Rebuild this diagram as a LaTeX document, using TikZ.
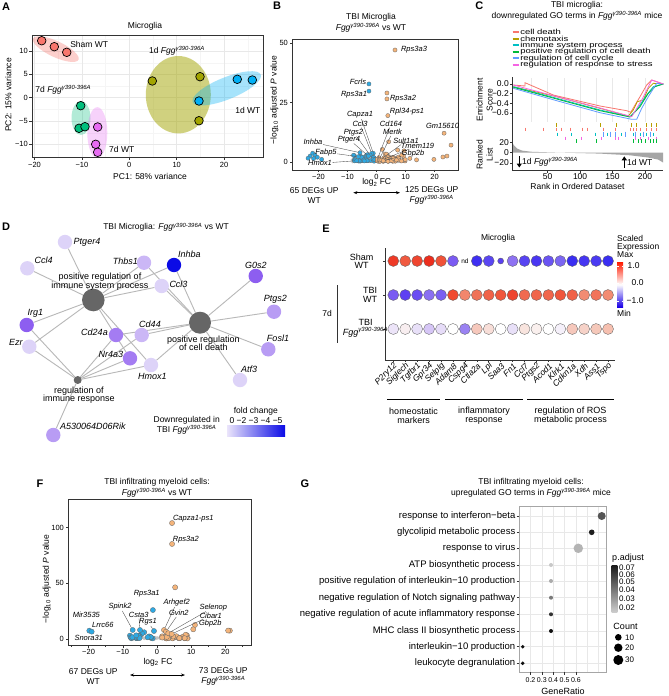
\documentclass[tikz,border=0pt]{standalone}
\usepackage{fontspec}
\setmainfont{Liberation Sans}
\usepackage{tikz}
\usetikzlibrary{positioning, arrows.meta, calc, backgrounds}

\definecolor{shamred}{HTML}{F8766D}
\definecolor{olivefgg}{HTML}{A3A500}
\definecolor{greenfgg}{HTML}{00BF7D}
\definecolor{bluewt}{HTML}{00B0F6}
\definecolor{pinkwt}{HTML}{E76BF3}
\definecolor{upcol}{HTML}{F4B47A}
\definecolor{dncol}{HTML}{2EA9E3}
\definecolor{cloud}{HTML}{C4C4C4}
\definecolor{gocd}{HTML}{F8766D}
\definecolor{goch}{HTML}{B79F00}
\definecolor{goim}{HTML}{00BFC4}
\definecolor{gopo}{HTML}{00BA38}
\definecolor{gocy}{HTML}{619CFF}
\definecolor{gost}{HTML}{F564E3}
\definecolor{hubgray}{HTML}{666666}
\definecolor{lavA}{HTML}{DDD3F8}
\definecolor{lavB}{HTML}{CBB7F6}
\definecolor{lavC}{HTML}{B89CF4}
\definecolor{lavD}{HTML}{A47CF2}
\definecolor{lavE}{HTML}{8D5EF0}
\definecolor{inhbablue}{HTML}{0B0BE6}

\newcommand{\fgg}{\textit{Fgg\textsuperscript{γ390-396A}}}

\tikzset{
  panellbl/.style={font=\fontsize{11}{11}\selectfont\bfseries, inner sep=0pt},
  ttl/.style={font=\fontsize{8.5}{11}\selectfont, align=center, inner sep=0pt},
  axlbl/.style={font=\fontsize{8.5}{10}\selectfont, align=center, inner sep=0pt},
  ticklbl/.style={font=\fontsize{7.5}{8}\selectfont, inner sep=0pt},
  vgene/.style={font=\fontsize{7.5}{8}\selectfont\itshape, inner sep=0.6pt},
  dlbl/.style={font=\fontsize{9}{9}\selectfont\itshape, inner sep=0pt},
  hublbl/.style={font=\fontsize{9}{8.5}\selectfont, align=center, inner sep=0pt},
  egene/.style={font=\fontsize{8.5}{8.5}\selectfont\itshape, inner sep=0pt, rotate=45, anchor=east},
  golbl/.style={font=\fontsize{9.5}{9.5}\selectfont, inner sep=0pt, anchor=east},
  gokey/.style={font=\fontsize{7.3}{7.3}\selectfont, inner sep=0pt, xscale=1.3, anchor=west},
  boxframe/.style={draw=black!80, line width=0.6pt},
  tickm/.style={draw=black!80, line width=0.5pt},
  gridmaj/.style={draw=black!9, line width=0.5pt},
  gridmin/.style={draw=black!4, line width=0.3pt},
  pcadot/.style={circle, draw=black, line width=0.7pt, minimum size=8.6pt, inner sep=0pt},
  volc/.style={circle, draw=black!60, line width=0.3pt, minimum size=4.2pt, inner sep=0pt},
  bigvolc/.style={volc, minimum size=5.2pt},
  gdot/.style={circle, fill=cloud, minimum size=2.6pt, inner sep=0pt},
  lbline/.style={draw=black!70, line width=0.35pt},
  cnode/.style={circle, minimum size=14.4pt, inner sep=0pt},
  hub/.style={circle, fill=hubgray, inner sep=0pt},
  cedge/.style={draw=black!28, line width=0.9pt},
  edot/.style={circle, draw=black!65, line width=0.3pt, minimum size=11pt, inner sep=0pt},
  godot/.style={circle, inner sep=0pt},
  degarrow/.style={{Stealth[length=4pt]}-{Stealth[length=4pt]}, line width=0.6pt},
  rankarrow/.style={-{Triangle[length=4pt, width=5pt]}, line width=1.4pt},
}

\begin{document}
\begin{tikzpicture}[x=1pt, y=-1pt]
\useasboundingbox (0,0) rectangle (669,696);
\begin{scope}[on background layer]
  \fill[white] (0,0) rectangle (669,696);
\end{scope}

% ---------------- A: PCA
\node[panellbl] (labA) at (6,7) {A};
\node[ttl] (ttlA) at (145,26) {Microglia};
\begin{scope}[shift={(129.3,97.7)}, x=4.74pt, y=4.67pt]
  \begin{scope}
    \clip (-20.53,-12.7) rectangle (28.2,13.43);
    \foreach \v in {-15,-5,5,15,25} \draw[gridmin] (\v,-12.7) -- (\v,13.43);
    \foreach \v in {-7.5,-2.5,2.5,7.5,12.5} \draw[gridmin] (-20.53,\v) -- (28.2,\v);
    \foreach \v in {-20,-10,0,10,20} \draw[gridmaj] (\v,-12.7) -- (\v,13.43);
    \foreach \v in {-10,-5,0,5,10} \draw[gridmaj] (-20.53,\v) -- (28.2,\v);
    \fill[shamred, opacity=.35, rotate around={-25:(-15.5,10.4)}] (-15.5,10.4) ellipse [x radius=25pt, y radius=8pt];
    \fill[greenfgg, opacity=.3] (-10.19,-4.35) ellipse [x radius=9.5pt, y radius=17pt];
    \fill[pinkwt, opacity=.3] (-6.75,-7.49) ellipse [x radius=10pt, y radius=25.5pt];
    \fill[olivefgg, opacity=.5] (10.34,0.64) ellipse [x radius=32.5pt, y radius=38.7pt];
    \fill[bluewt, opacity=.35, rotate around={22:(20.55,2.01)}] (20.55,2.01) ellipse [x radius=36.7pt, y radius=11pt];
  \end{scope}
  \draw[boxframe] (-20.53,-12.7) rectangle (28.2,13.43);
  \foreach \v/\t [count=\k] in {-20/−20,-10/−10,0/0,10/10,20/20} {
    \draw[tickm] (\v,-12.7) -- ++(0,-2.5pt);
    \node[ticklbl, anchor=north] (ax\k) at ([yshift=-5pt]\v,-12.7) {\t};
  }
  \foreach \v/\t [count=\k] in {-10/−10,-5/−5,0/0,5/5,10/10} {
    \draw[tickm] (-20.53,\v) -- ++(-2.5pt,0);
    \node[ticklbl, anchor=east] (ay\k) at ([xshift=-4pt]-20.53,\v) {\t};
  }
  % samples
  \foreach \px/\py [count=\k] in {-18.48/12.2, -15.82/10.92, -13.2/9.72}
    \node[pcadot, fill=shamred] (sham\k) at (\px,\py) {};
  \foreach \px/\py [count=\k] in {-10.25/-1.71, -10.61/-6.55, -9.35/-6.21}
    \node[pcadot, fill=greenfgg] (fggseven\k) at (\px,\py) {};
  \foreach \px/\py [count=\k] in {-6.67/-6.27, -7.09/-9.98, -6.67/-11.69}
    \node[pcadot, fill=pinkwt] (wtseven\k) at (\px,\py) {};
  \foreach \px/\py [count=\k] in {4.85/3.58, 14.92/4.5, 14.7/-4.93}
    \node[pcadot, fill=olivefgg] (fggone\k) at (\px,\py) {};
  \foreach \px/\py [count=\k] in {14.7/-0.71, 22.78/3.94, 25.95/3.79}
    \node[pcadot, fill=bluewt] (wtone\k) at (\px,\py) {};
  \node[axlbl, anchor=west] (lsham) at (-12.5,11.43) {Sham WT};
  \node[axlbl] (lfggone) at (10.06,9.98) {1d \fgg};
  \node[axlbl] (lfggseven) at (-13.92,1.65) {7d \fgg};
  \node[axlbl] (lwtseven) at (-1.6,-11.05) {7d WT};
  \node[axlbl] (lwtone) at (25.0,-2.63) {1d WT};
\end{scope}
\node[axlbl] (xlA) at (150,176.5) {PC1: 58\% variance};
\node[axlbl, rotate=90] (ylA) at (8.3,95) {PC2: 15\% variance};

% ---------------- B: volcano microglia
\node[panellbl] (labB) at (277,6) {B};
\node[ttl] (ttlB) at (371,22.7) {TBI Microglia\\\fgg{} vs WT};
\begin{scope}[shift={(376.5,162)}, x=2.9pt, y=2.38pt]
  \pgfmathsetseed{11}
  \foreach \k in {1,...,90} {
    \pgfmathsetmacro{\px}{-8.5+18.3*rnd}
    \pgfmathsetmacro{\py}{1.1*rnd}
    \node[gdot] (bgr\k) at (\px,\py) {};
  }
  \foreach \k in {1,...,34} {
    \pgfmathsetmacro{\px}{-8+7.6*rnd}
    \pgfmathsetmacro{\py}{0.3+4.2*rnd*rnd}
    \node[volc, fill=dncol] (bdn\k) at (\px,\py) {};
  }
  \foreach \k in {1,...,44} {
    \pgfmathsetmacro{\px}{0.2+9.8*rnd}
    \pgfmathsetmacro{\py}{0.3+3.6*rnd*rnd}
    \node[volc, fill=upcol] (bup\k) at (\px,\py) {};
  }
  \foreach \px/\py [count=\k] in {-22.9/2.5, -22/3.7, -21.2/2.9, -20.4/2, -18.9/1.1, -23.6/1.6, -21.7/1.4}
    \node[volc, fill=dncol] (bfar\k) at (\px,\py) {};
  \foreach \px/\py [count=\k] in {4.2/8.5, 2/5.3, 7.3/5, 9.5/4.7, 8.7/2.9, 25.7/7.1, 24.3/2.5, 22.9/2.1, 19.8/1.1, 11.5/1.5, 13.8/0.9}
    \node[volc, fill=upcol] (bext\k) at (\px,\py) {};
  % labelled genes
  \node[volc, fill=upcol] (bpRps3a3) at (6.38,47.06) {};
  \node[volc, fill=dncol] (bpFcrls) at (-2.6,32.8) {};
  \node[volc, fill=dncol] (bpRps3a1) at (-2.6,29.8) {};
  \node[volc, fill=upcol] (bpRps3a2) at (3.6,29) {};
  \node[volc, fill=upcol] (bpRps3a2b) at (3.6,26.5) {};
  \node[volc, fill=upcol] (bpRpl) at (3.9,19.5) {};
  \node[volc, fill=upcol] (bpGm) at (23.3,12.1) {};
  \node[volc, fill=dncol] (bpCapza1) at (-1.1,3.66) {};
  \node[volc, fill=dncol] (bpCcl3) at (-1.66,3.66) {};
  \node[volc, fill=dncol] (bpPtgs2) at (-2.24,2.94) {};
  \node[volc, fill=dncol] (bpPtger4) at (-2.83,2.52) {};
  \node[volc, fill=dncol] (bpInhba) at (-5.69,3.91) {};
  \node[volc, fill=dncol] (bpFabp5) at (-6.28,2.23) {};
  \node[volc, fill=dncol] (bpHmox1) at (-6.83,0.55) {};
  \node[volc, fill=upcol] (bpCd164) at (0.28,1.13) {};
  \node[volc, fill=upcol] (bpMertk) at (0.97,1.13) {};
  \node[volc, fill=upcol] (bpSult1a1) at (1.2,0.84) {};
  \node[volc, fill=upcol] (bpTmem119) at (1.8,0.84) {};
  \node[volc, fill=upcol] (bpGbp2b) at (2.34,0.55) {};
  \draw[boxframe] (-29.1,-3.36) rectangle (28.1,51.7);
  \foreach \v/\t [count=\k] in {-20/−20,-10/−10,0/0,10/10,20/20} {
    \draw[tickm] (\v,-3.36) -- ++(0,-2.5pt);
    \node[ticklbl, anchor=north] (bx\k) at ([yshift=-4pt]\v,-3.36) {\t};
  }
  \foreach \v in {-25,-15,-5,5,15,25} \draw[tickm] (\v,-3.36) -- ++(0,-1.5pt);
  \foreach \v [count=\k] in {0,25,50} {
    \draw[tickm] (-29.1,\v) -- ++(-2.5pt,0);
    \node[ticklbl, anchor=east] (by\k) at ([xshift=-4pt]-29.1,\v) {\v};
  }
\end{scope}
\foreach \n/\t/\px/\py in {Rps3a3/Rps3a3/414/50, Fcrls/Fcrls/358/81.7, Rps3a1/Rps3a1/354/94.3, Rps3a2/Rps3a2/403/98.3, Rpl/Rpl34-ps1/407/111.7, Gm/Gm15610/442.5/126}
  \node[vgene] (bl\n) at (\px,\py) {\t};
\foreach \n/\px/\py in {Capza1/360/115, Ccl3/360/124, Ptgs2/353.5/132.3, Ptger4/349/139.3, Inhba/313/142.3, Fabp5/326/152.3, Hmox1/320/163.3, Cd164/391/124, Mertk/392.5/132.3, Sult1a1/406/141, Tmem119/417.5/145.7, Gbp2b/413/153.3} {
  \node[vgene] (bl\n) at (\px,\py) {\n};
  \draw[lbline] (bl\n) -- (bp\n);
}
\node[axlbl] (xlB) at (376.7,182.7) {log\textsubscript{2} FC};
\node[axlbl, rotate=90] (ylB) at (274.3,100) {−log\textsubscript{10} adjusted \textit{P} value};
\node[axlbl] (dnB) at (314.3,195.5) {65 DEGs UP\\WT};
\node[axlbl] (upB) at (431.7,195.5) {125 DEGs UP\\\fgg};
\coordinate (bArrL) at (353.3,192.7);
\coordinate (bArrR) at (400,192.7);
\draw[degarrow] (bArrL) -- (bArrR);

% ---------------- C: GSEA
\node[panellbl] (labC) at (479.3,6) {C};
\node[ttl] (ttlC) at (577,10.9) {TBI microglia:\\downregulated GO terms in \fgg{} mice};
\foreach \col/\t/\py [count=\k] in {gocd/cell death/32, goch/chemotaxis/38.6, goim/immune system process/45.2, gopo/positive regulation of cell death/51.8, gocy/regulation of cell cycle/58.4, gost/regulation of response to stress/65} {
  \draw[\col, line width=2pt] (512.5,\py) -- (518.5,\py);
  \node[gokey] (gk\k) at (520,\py) {\t};
}
\foreach \r in {25,50,...,200} \draw[gridmaj] ({515.3+0.648*\r},78) -- ({515.3+0.648*\r},122);
\draw[gocd, line width=0.8pt] (513.3,85) -- (525,86) -- (525,82.7) -- (553.3,95) -- (600,106) -- (626.7,110.7) -- (630.7,112.3) -- (640,96.7) -- (646.7,85) -- (651.7,80) -- (663.3,84);
\draw[goch, line width=0.8pt] (513.3,86.7) -- (556.7,96.7) -- (600,108.3) -- (628.3,116) -- (633.3,110) -- (637.3,101.7) -- (643.3,100) -- (648.3,88.3) -- (653.3,83.3) -- (663.3,84);
\draw[goim, line width=0.8pt] (513.3,86.7) -- (556.7,98.3) -- (600,110) -- (630,116.7) -- (636.7,110) -- (646.7,95) -- (653.3,86.7) -- (663.3,84);
\draw[gopo, line width=0.8pt] (513.3,87.3) -- (556.7,99) -- (600,110.7) -- (630,117) -- (640,106.7) -- (648.3,93.3) -- (655,86.7) -- (663.3,84);
\draw[gocy, line width=0.8pt] (513.3,88.3) -- (556.7,100.7) -- (600,112.7) -- (631.7,119.3) -- (636.7,119.3) -- (641.7,108.3) -- (648.3,96.7) -- (656.7,83.3) -- (663.3,84);
\draw[gost, line width=0.8pt] (513.3,85) -- (560,97.5) -- (600,108) -- (631.7,116.7) -- (641.7,100) -- (651.7,80) -- (663.3,84);
% hits
\foreach \px in {556.7,600,616.7,631.7,636.7,646.7,651.7,656.7} \draw[goch, line width=0.8pt] (\px,123.4) -- (\px,126.8);
\foreach \px in {525,543.3,556,561,570,582.7,587.3,603.3,615,630,633.3,636.7,640,646.7,651.7,656.7} \draw[gocd, line width=0.8pt] (\px,127.7) -- (\px,131);
\foreach \px in {557.7,571.7,595,607.3,621.7,633.3,640,646.7,653.3} \draw[goim, line width=0.8pt] (\px,132.7) -- (\px,136);
\foreach \px in {603.3,610.7,615,625,635,643.3,650} \draw[gocy, line width=0.8pt] (\px,131.7) -- (\px,136.7);
\foreach \px in {565,581.7,601.7,615,618.3,635,640,648.3,656.7} \draw[gost, line width=0.8pt] (\px,136.7) -- (\px,140);
\foreach \px in {576.7,596.7,633.3,638.3,641.7,645,650,653.3,656.7} \draw[gopo, line width=0.8pt] (\px,139.4) -- (\px,142.8);
% ranked list
\fill[black!35] (512.5,152.7) -- (512.5,142.7) -- (514,145.5) -- (517,148.5) -- (522,150.6) -- (532,151.8) -- (555,152.5) -- (600,153.6) -- (630,155.3) -- (648,157.5) -- (658,159.5) -- (663,162.5) -- (663,152.7) -- cycle;
\draw[boxframe] (512.3,77) -- (512.3,170) -- (663.3,170);
\foreach \t/\py [count=\k] in {0.0/84, −0.2/93.6, −0.4/103.2, −0.6/112.8} {
  \draw[tickm] (510,\py) -- (512.3,\py);
  \node[axlbl, anchor=east] (esy\k) at (509,\py) {\t};
}
\foreach \t/\py [count=\k] in {20/142.7, 0/152.7, −20/163} {
  \draw[tickm] (510,\py) -- (512.3,\py);
  \node[axlbl, anchor=east] (rly\k) at (509,\py) {\t};
}
\foreach \r [count=\k] in {50,100,150,200} {
  \draw[tickm] ({515.3+0.648*\r},170) -- ({515.3+0.648*\r},172.5);
  \node[axlbl] (rkx\k) at ({515.3+0.648*\r},177) {\r};
}
\node[axlbl] (xlC) at (577.5,186) {Rank in Ordered Dataset};
\node[axlbl, rotate=90] (esl) at (484.5,100) {Enrichment\\Score};
\node[axlbl, rotate=90] (rkl) at (484.5,154.5) {Ranked\\List};
\coordinate (aDnT) at (519.3,156.3);
\coordinate (aDnB) at (519.3,167.5);
\draw[rankarrow] (aDnT) -- (aDnB);
\node[axlbl, anchor=west] (onefgg) at (522,162) {1d \fgg};
\coordinate (aUpB) at (624.3,167.5);
\coordinate (aUpT) at (624.3,156.3);
\draw[rankarrow] (aUpB) -- (aUpT);
\node[axlbl, anchor=west] (onewt) at (627,162) {1d WT};

% ---------------- D: cnet plot
\node[panellbl] (labD) at (6,226.7) {D};
\node[ttl] (ttlD) at (166,227.3) {TBI Microglia: \fgg{} vs WT};
\node[hub, minimum size=22.6pt] (prisp) at (93.3,300) {};
\node[hub, minimum size=22pt] (prcd) at (200,322.7) {};
\node[hub, minimum size=8pt] (rir) at (77.7,380) {};
\node[cnode, fill=lavA] (dPtger4) at (65,242) {};
\node[cnode, fill=lavA] (dCcl4) at (27.3,268.3) {};
\node[cnode, fill=lavB] (dThbs1) at (144,262.7) {};
\node[cnode, fill=inhbablue] (dInhba) at (174,265) {};
\node[cnode, fill=lavE] (dG0s2) at (255.7,276) {};
\node[cnode, fill=lavA] (dCcl3) at (161.7,286) {};
\node[cnode, fill=lavC] (dPtgs2) at (274,311.7) {};
\node[cnode, fill=lavE] (dIrg1) at (26.7,325) {};
\node[cnode, fill=lavD] (dCd24a) at (116,335) {};
\node[cnode, fill=lavB] (dCd44) at (141.7,335) {};
\node[cnode, fill=lavC] (dFosl1) at (268.3,349.3) {};
\node[cnode, fill=lavA] (dEzr) at (29.3,346.7) {};
\node[cnode, fill=lavD] (dNr4a3) at (130,358.3) {};
\node[cnode, fill=lavA] (dHmox1) at (151,365) {};
\node[cnode, fill=lavA] (dAtf3) at (240,380) {};
\node[cnode, fill=lavC] (dRik) at (53.3,435) {};
\begin{scope}[on background layer]
  \foreach \g in {dPtger4,dCcl4,dThbs1,dInhba,dCcl3,dIrg1,dEzr,dNr4a3,dHmox1} \draw[cedge] (prisp) -- (\g);
  \foreach \g in {dThbs1,dInhba,dCcl3,dG0s2,dPtgs2,dFosl1,dAtf3,dCd44,dCd24a,dHmox1} \draw[cedge] (prcd) -- (\g);
  \foreach \g in {dIrg1,dEzr,dCd24a,dCd44,dNr4a3,dHmox1,dRik} \draw[cedge] (rir) -- (\g);
\end{scope}
\foreach \n/\px/\py in {Ptger4/87/242.7, Ccl4/43.7/260, Thbs1/125.3/261, Inhba/189.3/254.3, G0s2/255.8/265, Ccl3/178.5/284.3, Ptgs2/275.3/299, Irg1/35.5/313.3, Cd24a/94.5/332.7, Cd44/150/324.3, Fosl1/278/338.3, Ezr/15.8/342, Nr4a3/110.8/354.3, Hmox1/152.5/376.7, Atf3/249.2/369.7}
  \node[dlbl] (t\n) at (\px,\py) {\n};
\node[dlbl] (tRik) at (92.8,426.7) {A530064D06Rik};
\node[hublbl] (tprisp) at (100,281.8) {positive regulation of\\immune system process};
\node[hublbl] (tprcd) at (203.3,343.5) {positive regulation\\of cell death};
\node[hublbl] (trir) at (79,395.2) {regulation of\\immune response};
\node[axlbl] (fcttl) at (255.8,411) {fold change};
\node[axlbl] (fcnum) at (256,421) {0 −2 −3 −4 −5};
\shade[left color=lavA!60!white, right color=inhbablue] (227,425.7) rectangle (285,436);
\node[axlbl, align=center] (fcdesc) at (186.7,425.3) {Downregulated in\\TBI \fgg};

% ---------------- E: dot plot
\node[panellbl] (labE) at (326,228.3) {E};
\node[ttl] (ttlE) at (498,238) {Microglia};
\foreach \i/\col in {1/EE3A26,2/F05A40,3/EF4630,4/EC2E1E,5/F05238,6/7B5BF2,8/3F2FF2,9/5A46F2,11/8E72F2,12/5844F2,13/4A36F2,14/6A54F2,15/7C66F2,16/3A2EF2,17/4636F2,18/4A3AF2,19/3A2EF2} {
  \definecolor{ecol}{HTML}{\col}
  \node[edot, fill=ecol] (es\i) at ({393.3+11.93*(\i-1)},261) {};
}
\definecolor{esmall}{HTML}{5A40F0}
\node[edot, fill=esmall, minimum size=6pt] (es10) at ({393.3+11.93*9},261) {};
\node[font=\fontsize{6.5}{6.5}\selectfont, inner sep=0pt] (es7) at ({393.3+11.93*6},261) {nd};
\foreach \i/\col in {1/7A5AF2,2/5E40F2,3/6A4CF2,4/8A70F2,5/7A60F2,6/F04A30,7/F2866C,8/F07258,9/F06248,10/F0563C,11/EE4530,12/F06A50,13/F0664C,14/F0664C,15/F0563C,16/F06248,17/F28C72,18/F2735A,19/F28C72} {
  \definecolor{ecol}{HTML}{\col}
  \node[edot, fill=ecol] (ew\i) at ({393.3+11.93*(\i-1)},295) {};
}
\foreach \i/\col in {1/ECE4F8,2/F8EEF0,3/E8E0F8,4/D6C6F6,5/E6DCF8,6/FFFFFF,7/9A82F2,8/F6C8BC,9/F8DED8,10/FFFFFF,11/E8E0F8,12/F8E4DE,13/FAF0EE,14/FFFFFF,15/F5F0FA,16/F6C8BC,17/F6D2C8,18/F5C8BA,19/F6C0B0} {
  \definecolor{ecol}{HTML}{\col}
  \node[edot, fill=ecol] (ef\i) at ({393.3+11.93*(\i-1)},329) {};
}
\draw[boxframe] (385,248) -- (385,360) -- (615,360);
\foreach \py in {261,295,329} \draw[tickm] (383,\py) -- (385,\py);
\foreach \i in {1,...,19} \draw[tickm] ({393.3+11.93*(\i-1)},360) -- ({393.3+11.93*(\i-1)},362.3);
\foreach \g [count=\i] in {P2ry12,Siglech,Tgfbr1,Gpr34,Selplg,Adam8,Cspg4,Ctla2a,Lpl,Saa3,Fn1,Ccl7,Ptgs2,Acod1,Klrk1,Cdkn1a,Xdh,Ass1,Tspo}
  \node[egene] (eg\i) at ({393.3+11.93*(\i-1)+2.5},364.5) {\g};
\node[axlbl, font=\fontsize{9}{8.5}\selectfont] (rsham) at (361.7,261.3) {Sham\\WT};
\node[axlbl, font=\fontsize{9}{9.5}\selectfont] (rtbiwt) at (370,295) {TBI\\WT};
\node[axlbl, font=\fontsize{9}{9.5}\selectfont] (rtbifgg) at (365.5,328.3) {TBI\\\fgg};
\coordinate (sevT) at (337.3,285);
\coordinate (sevB) at (337.3,343);
\draw[line width=0.8pt, black!80] (sevT) -- (sevB);
\node[axlbl] (rseven) at (327,313.5) {7d};
\draw[line width=1pt] (387,399) -- (440,399);
\draw[line width=1pt] (445,399) -- (523,399);
\draw[line width=1pt] (527,399) -- (614,399);
\node[axlbl, font=\fontsize{9}{9.3}\selectfont] (bhomeo) at (413.5,415.5) {homeostatic\\markers};
\node[axlbl, font=\fontsize{9}{9.3}\selectfont] (binfl) at (484,415.5) {inflammatory\\response};
\node[axlbl, font=\fontsize{9}{9.3}\selectfont] (bros) at (570.5,415.5) {regulation of ROS\\metabolic process};
\node[axlbl, anchor=west, align=left, font=\fontsize{8.5}{8.3}\selectfont] (cbttl) at (617,246.5) {Scaled\\Expression\\Max};
\shade[top color=red!80!orange, bottom color=blue!80!violet, middle color=white] (617,262) rectangle (623,307);
\foreach \py in {266,283,301} \draw[white, line width=0.5pt] (617,\py) -- (618.5,\py) (621.5,\py) -- (623,\py);
\node[axlbl, anchor=west] (cb1) at (627.5,266) {1.0};
\node[axlbl, anchor=west] (cb0) at (631.5,283) {0.0};
\node[axlbl, anchor=west] (cbm) at (626.5,301) {−1.0};
\node[axlbl, anchor=west] (cbmin) at (617,313) {Min};

% ---------------- F: volcano infiltrating
\node[panellbl] (labF) at (40,484) {F};
\node[ttl] (ttlF) at (157,488) {TBI infiltrating myeloid cells:\\\fgg{} vs WT};
\begin{scope}[shift={(157,639)}, x=3.42pt, y=1.114pt]
  \pgfmathsetseed{23}
  \foreach \k in {1,...,80} {
    \pgfmathsetmacro{\px}{-8+18*rnd}
    \pgfmathsetmacro{\py}{1.6*rnd}
    \node[gdot] (fgr\k) at (\px,\py) {};
  }
  \foreach \k in {1,...,26} {
    \pgfmathsetmacro{\px}{-8+7*rnd}
    \pgfmathsetmacro{\py}{0.5+6*rnd*rnd}
    \node[bigvolc, fill=dncol] (fdn\k) at (\px,\py) {};
  }
  \foreach \k in {1,...,30} {
    \pgfmathsetmacro{\px}{1+8*rnd}
    \pgfmathsetmacro{\py}{0.5+5*rnd*rnd}
    \node[bigvolc, fill=upcol] (fup\k) at (\px,\py) {};
  }
  \node[bigvolc, fill=upcol] (fpCapza) at (4.4,104.1) {};
  \node[bigvolc, fill=upcol] (fpRps3a2) at (4.4,85.3) {};
  \node[bigvolc, fill=upcol] (fpOr) at (5.3,46.4) {};
  \node[bigvolc, fill=dncol] (fpRps3a1) at (-1.2,26) {};
  \node[bigvolc, fill=dncol] (fpMir) at (-19.8,7.5) {};
  \node[bigvolc, fill=dncol] (fpLrrc) at (-19.1,6.6) {};
  \node[bigvolc, fill=upcol] (fpGbp) at (11.1,12.6) {};
  \node[bigvolc, fill=upcol] (fpOrB) at (10.6,8.7) {};
  \node[bigvolc, fill=upcol] (fpOrC) at (21.3,7.5) {};
  \node[bigvolc, fill=upcol] (fpOrD) at (20.8,7.6) {};
  \node[bigvolc, fill=dncol] (fpSpink2) at (-7.11,8.08) {};
  \node[bigvolc, fill=dncol] (fpCsta3) at (-4.97,8.08) {};
  \node[bigvolc, fill=dncol] (fpRgs1) at (-0.88,7.18) {};
  \node[bigvolc, fill=upcol] (fpArhgef2) at (2.05,8.08) {};
  \node[bigvolc, fill=upcol] (fpGvin2) at (2.63,6.5) {};
  \node[bigvolc, fill=upcol] (fpSelenop) at (3.3,5.2) {};
  \node[bigvolc, fill=upcol] (fpCibar1) at (4.3,4.5) {};
  \draw[boxframe] (-26,-5.4) rectangle (27.5,125.7);
  \foreach \v/\t [count=\k] in {-20/−20,-10/−10,0/0,10/10,20/20} {
    \draw[tickm] (\v,-5.4) -- ++(0,-2.5pt);
    \node[ticklbl, anchor=north] (fx\k) at ([yshift=-4pt]\v,-5.4) {\t};
  }
  \foreach \v in {-25,-15,-5,5,15,25} \draw[tickm] (\v,-5.4) -- ++(0,-1.5pt);
  \foreach \v [count=\k] in {0,50,100} {
    \draw[tickm] (-26,\v) -- ++(-2.5pt,0);
    \node[ticklbl, anchor=east] (fy\k) at ([xshift=-4pt]-26,\v) {\v};
  }
\end{scope}
\foreach \n/\t/\px/\py in {Capza/Capza1-ps1/193.3/518.3, Rps3a2/Rps3a2/185.8/539.3, Rps3a1/Rps3a1/146.7/593.3, Mir/Mir3535/86.3/615, Lrrc/Lrrc66/102.8/625, Snora/Snora31/88.7/638.3, Gbp/Gbp2b/210.3/623.3}
  \node[vgene] (fl\n) at (\px,\py) {\t};
\foreach \n/\px/\py in {Spink2/120/606.7, Csta3/138.7/615, Rgs1/148/621.7, Arhgef2/176.7/602.7, Gvin2/178.8/613.3, Selenop/213.3/607.3, Cibar1/210.8/615.7} {
  \node[vgene] (fl\n) at (\px,\py) {\n};
  \draw[lbline] (fl\n) -- (fp\n);
}
\node[axlbl] (xlF) at (158,662) {log\textsubscript{2} FC};
\node[axlbl, rotate=90] (ylF) at (46.7,579) {−log\textsubscript{10} adjusted \textit{P} value};
\node[axlbl] (dnF) at (93.3,676.5) {67 DEGs UP\\WT};
\node[axlbl] (upF) at (223.3,676.5) {73 DEGs UP\\\fgg};
\coordinate (fArrL) at (130,675);
\coordinate (fArrR) at (185,675);
\draw[degarrow] (fArrL) -- (fArrR);

% ---------------- G: GO dot plot
\node[panellbl] (labG) at (305,484) {G};
\node[ttl] (ttlG) at (531,488) {TBI infiltrating myeloid cells:\\upregulated GO terms in \fgg{} mice};
\foreach \k in {0,...,6} \draw[gridmaj] ({530.5+11.35*\k},506) -- ({530.5+11.35*\k},672);
\foreach \t/\py [count=\k] in {response to interferon−beta/516, glycolipid metabolic process/532.3, response to virus/548.3, ATP biosynthetic process/565, positive regulation of interleukin−10 production/581, negative regulation of Notch signaling pathway/597.7, negative regulation of acute inflammatory response/614.3, MHC class II biosynthetic process/631, interleukin−10 production/646.7, leukocyte degranulation/663.3} {
  \draw[gridmaj] (519,\py) -- (606,\py);
  \draw[tickm] (516.5,\py) -- (519,\py);
  \node[golbl] (gl\k) at (515.5,\py) {\t};
}
\foreach \px/\py/\s/\col [count=\k] in {601.7/516/8/555555, 591.7/532.3/5.6/1E1E1E, 578.3/548.3/9.5/B4B4B4, 551/565/4/C8C8C8, 551/581/4/ABABAB, 551/597.7/4/7A7A7A, 551/614.3/4/333333, 551/631/4/111111, 522.7/646.7/3.8/111111, 522.7/663.3/3.8/111111} {
  \definecolor{gcol}{HTML}{\col}
  \node[godot, fill=gcol, minimum size=\s pt] (gp\k) at (\px,\py) {};
}
\draw[draw=black!35, line width=0.6pt] (519,506) rectangle (606,672);
\foreach \t [count=\k] in {0.2,0.3,0.4,0.5,0.6} {
  \draw[tickm] ({530.5+11.35*(\k-1)},672) -- ({530.5+11.35*(\k-1)},674.5);
  \node[ticklbl, font=\fontsize{7}{7}\selectfont] (gx\k) at ({530.5+11.35*(\k-1)},680) {\t};
}
\node[axlbl, font=\fontsize{9}{9}\selectfont] (xlG) at (563,691) {GeneRatio};
\node[axlbl, font=\fontsize{9}{9}\selectfont] (padj) at (628,557.7) {p.adjust};
\shade[top color=black!90, bottom color=black!20] (611.7,565) rectangle (617.3,612);
\foreach \t/\py [count=\k] in {0.07/567.3, 0.06/574.3, 0.05/582, 0.04/590, 0.03/598.3, 0.02/607.3}
  \node[ticklbl, font=\fontsize{8}{8}\selectfont, anchor=west] (pv\k) at (619,\py) {\t};
\node[axlbl, font=\fontsize{9}{9}\selectfont] (cntttl) at (625.5,626.7) {Count};
\foreach \t/\py/\s [count=\k] in {10/637.3/6.6, 20/647.7/8.4, 30/660/10} {
  \node[godot, fill=black, minimum size=\s pt] (gc\k) at (618.3,\py) {};
  \node[ticklbl, font=\fontsize{8}{8}\selectfont, anchor=west] (gct\k) at (625,\py) {\t};
}
\end{tikzpicture}
\end{document}
